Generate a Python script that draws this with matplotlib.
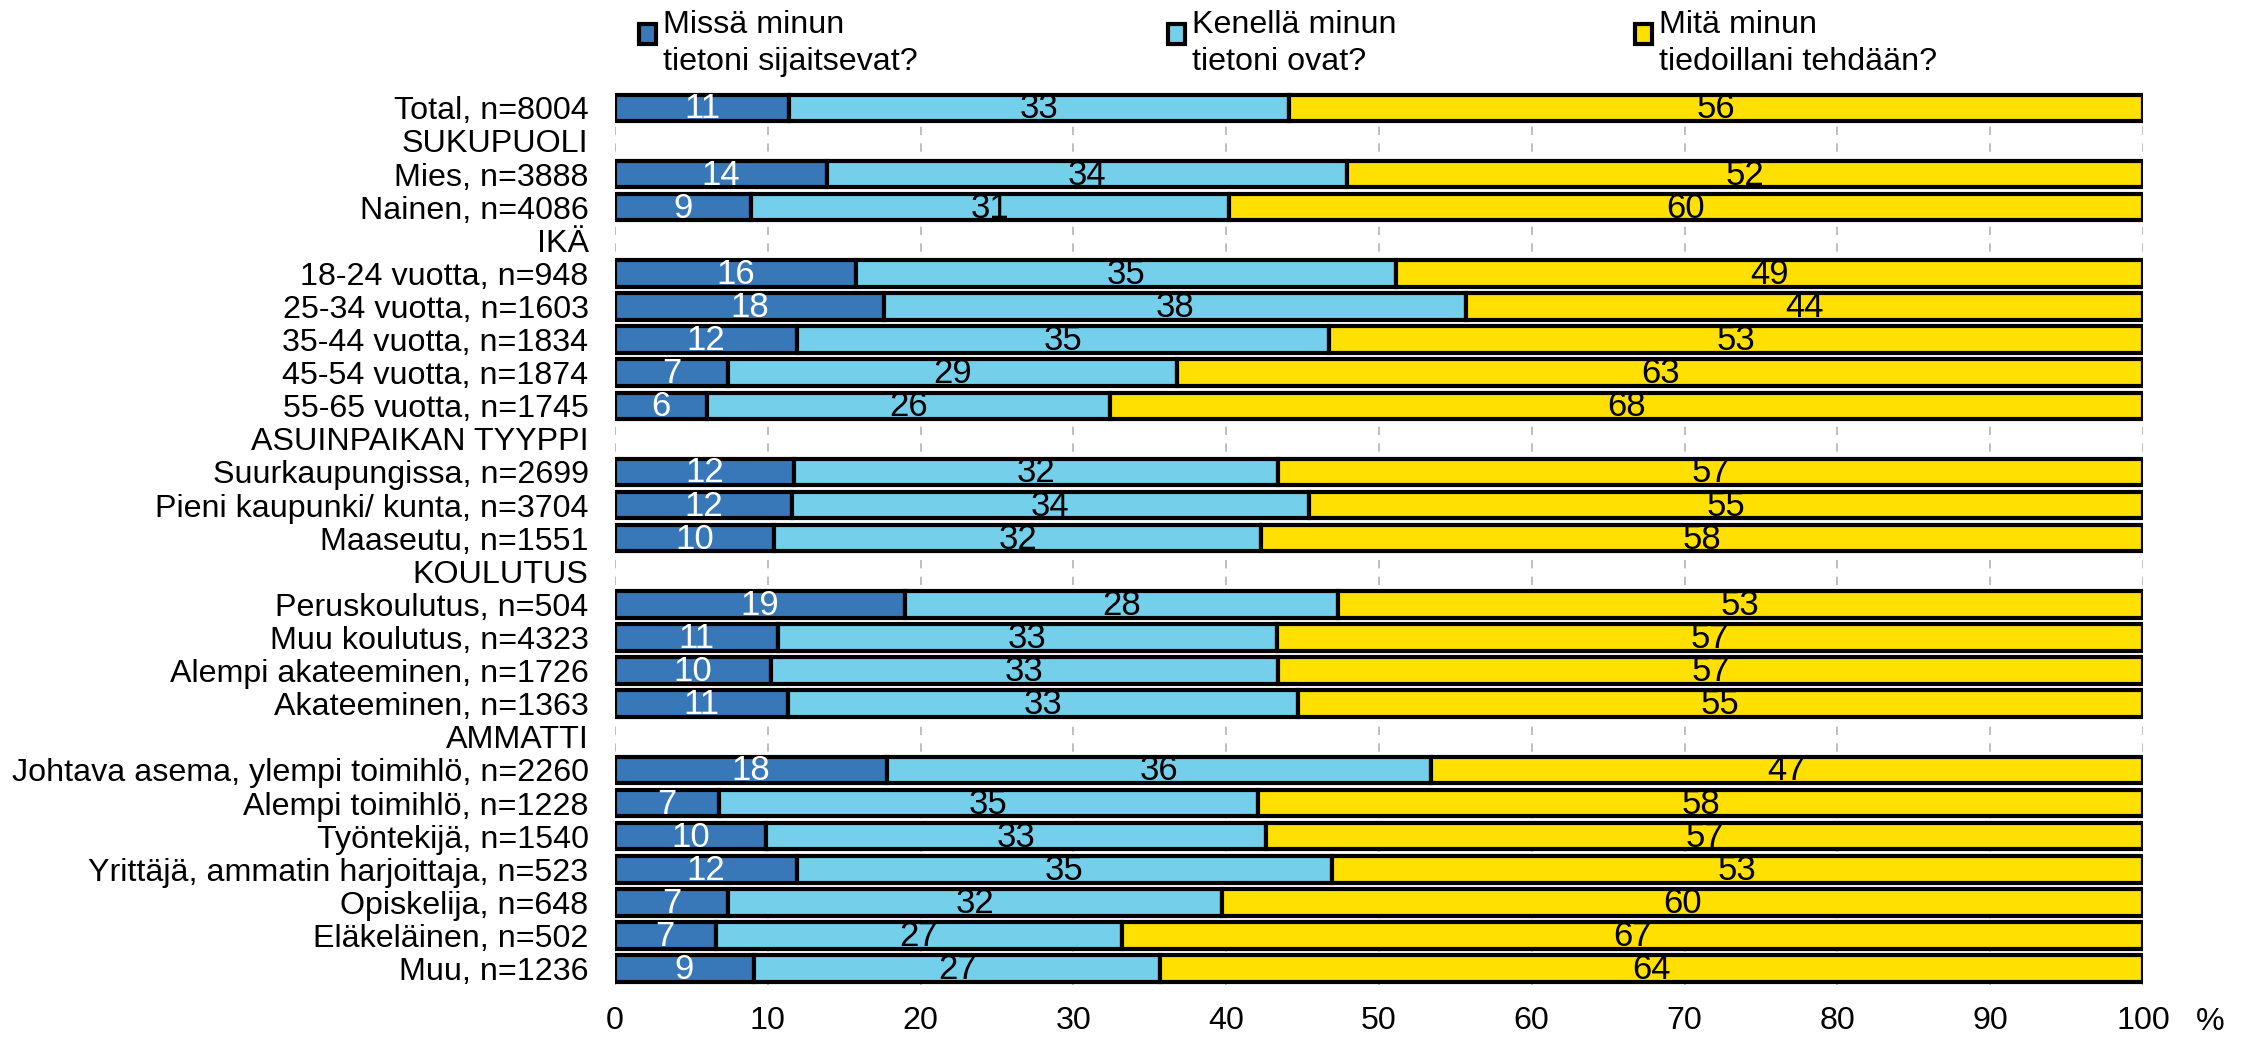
import numpy as np
import matplotlib
matplotlib.use('Agg')
import matplotlib.pyplot as plt
from matplotlib.patches import Rectangle

plt.rcParams['font.family'] = ['Liberation Sans', 'DejaVu Sans']

categories = [
    'Total, n=8004', 'SUKUPUOLI', 'Mies, n=3888', 'Nainen, n=4086', 'IKÄ',
    '18-24 vuotta, n=948', '25-34 vuotta, n=1603', '35-44 vuotta, n=1834',
    '45-54 vuotta, n=1874', '55-65 vuotta, n=1745', 'ASUINPAIKAN TYYPPI',
    'Suurkaupungissa, n=2699', 'Pieni kaupunki/ kunta, n=3704', 'Maaseutu, n=1551',
    'KOULUTUS', 'Peruskoulutus, n=504', 'Muu koulutus, n=4323',
    'Alempi akateeminen, n=1726', 'Akateeminen, n=1363', 'AMMATTI',
    'Johtava asema, ylempi toimihlö, n=2260', 'Alempi toimihlö, n=1228',
    'Työntekijä, n=1540', 'Yrittäjä, ammatin harjoittaja, n=523',
    'Opiskelija, n=648', 'Eläkeläinen, n=502', 'Muu, n=1236',
]

# None = section header row (no bar)
missa = [11.4, None, 13.9, 8.9, None, 15.8, 17.6, 11.9, 7.4, 6.0, None,
         11.7, 11.6, 10.4, None, 19.0, 10.7, 10.2, 11.3, None,
         17.8, 6.8, 9.9, 11.9, 7.4, 6.6, 9.1]
kenella = [32.7, None, 34.0, 31.3, None, 35.3, 38.1, 34.8, 29.4, 26.4, None,
           31.7, 33.8, 31.9, None, 28.3, 32.6, 33.2, 33.4, None,
           35.6, 35.3, 32.7, 35.0, 32.3, 26.6, 26.6]
mita = [55.9, None, 52.1, 59.8, None, 48.9, 44.3, 53.3, 63.2, 67.6, None,
        56.6, 54.6, 57.7, None, 52.7, 56.7, 56.6, 55.3, None,
        46.6, 57.9, 57.4, 53.1, 60.3, 66.8, 64.3]

series_names = ['Missä minun\ntietoni sijaitsevat?',
                'Kenellä minun\ntietoni ovat?',
                'Mitä minun\ntiedoillani tehdään?']
colors = ['#3878b9', '#74cfea', '#ffe000']
label_colors = ['white', 'black', 'black']
xticks = list(range(0, 101, 10))

fig = plt.figure(figsize=(22.55, 10.37), dpi=100)
ax = fig.add_axes([0.2727, 0.050, 0.6776, 0.862])

y = np.arange(len(categories))
rows = [i for i in range(len(categories)) if missa[i] is not None]
left = np.zeros(len(rows))
for vals, col, tcol in zip([missa, kenella, mita], colors, label_colors):
    w = np.array([vals[i] for i in rows])
    ax.barh(y[rows], w, left=left, height=0.8, color=col,
            edgecolor='black', linewidth=3.0, zorder=3)
    for yy, l, v in zip(y[rows], left, w):
        ax.text(l + v / 2, yy + 0.03, f'{v:.0f}', ha='center', va='center',
                color=tcol, fontsize=25, zorder=4,
                family=['Liberation Sans Narrow', 'Liberation Sans'])
    left = left + w

ax.set_ylim(len(categories) - 0.5, -0.5)
ax.set_xlim(0, 100)
ax.set_yticks(y)
ax.set_yticklabels(categories, fontsize=23.2)
ax.set_xticks(xticks)
ax.set_xticklabels([str(t) for t in xticks], fontsize=23.2)
ax.tick_params(axis='y', length=0, pad=19)
ax.tick_params(axis='x', length=0, pad=15)
for s in ax.spines.values():
    s.set_visible(False)
ax.xaxis.grid(True, linestyle=(0, (5, 5)), color='#b4b4b4', linewidth=1.2)
ax.set_axisbelow(True)
ax.yaxis.grid(False)

fig.text(0.980, 0.014, '%', fontsize=23.2, ha='center', va='center')

# legend across the top
leg_x = [0.2834, 0.5180, 0.7252]
for lx, name, col in zip(leg_x, series_names, colors):
    fig.add_artist(Rectangle((lx, 0.958), 0.0075, 0.019, transform=fig.transFigure,
                             facecolor=col, edgecolor='black', linewidth=3.0))
    fig.text(lx + 0.0105, 0.990, name, fontsize=23.2, ha='left', va='top',
             linespacing=1.27)

fig.savefig('out.png', dpi=100)
